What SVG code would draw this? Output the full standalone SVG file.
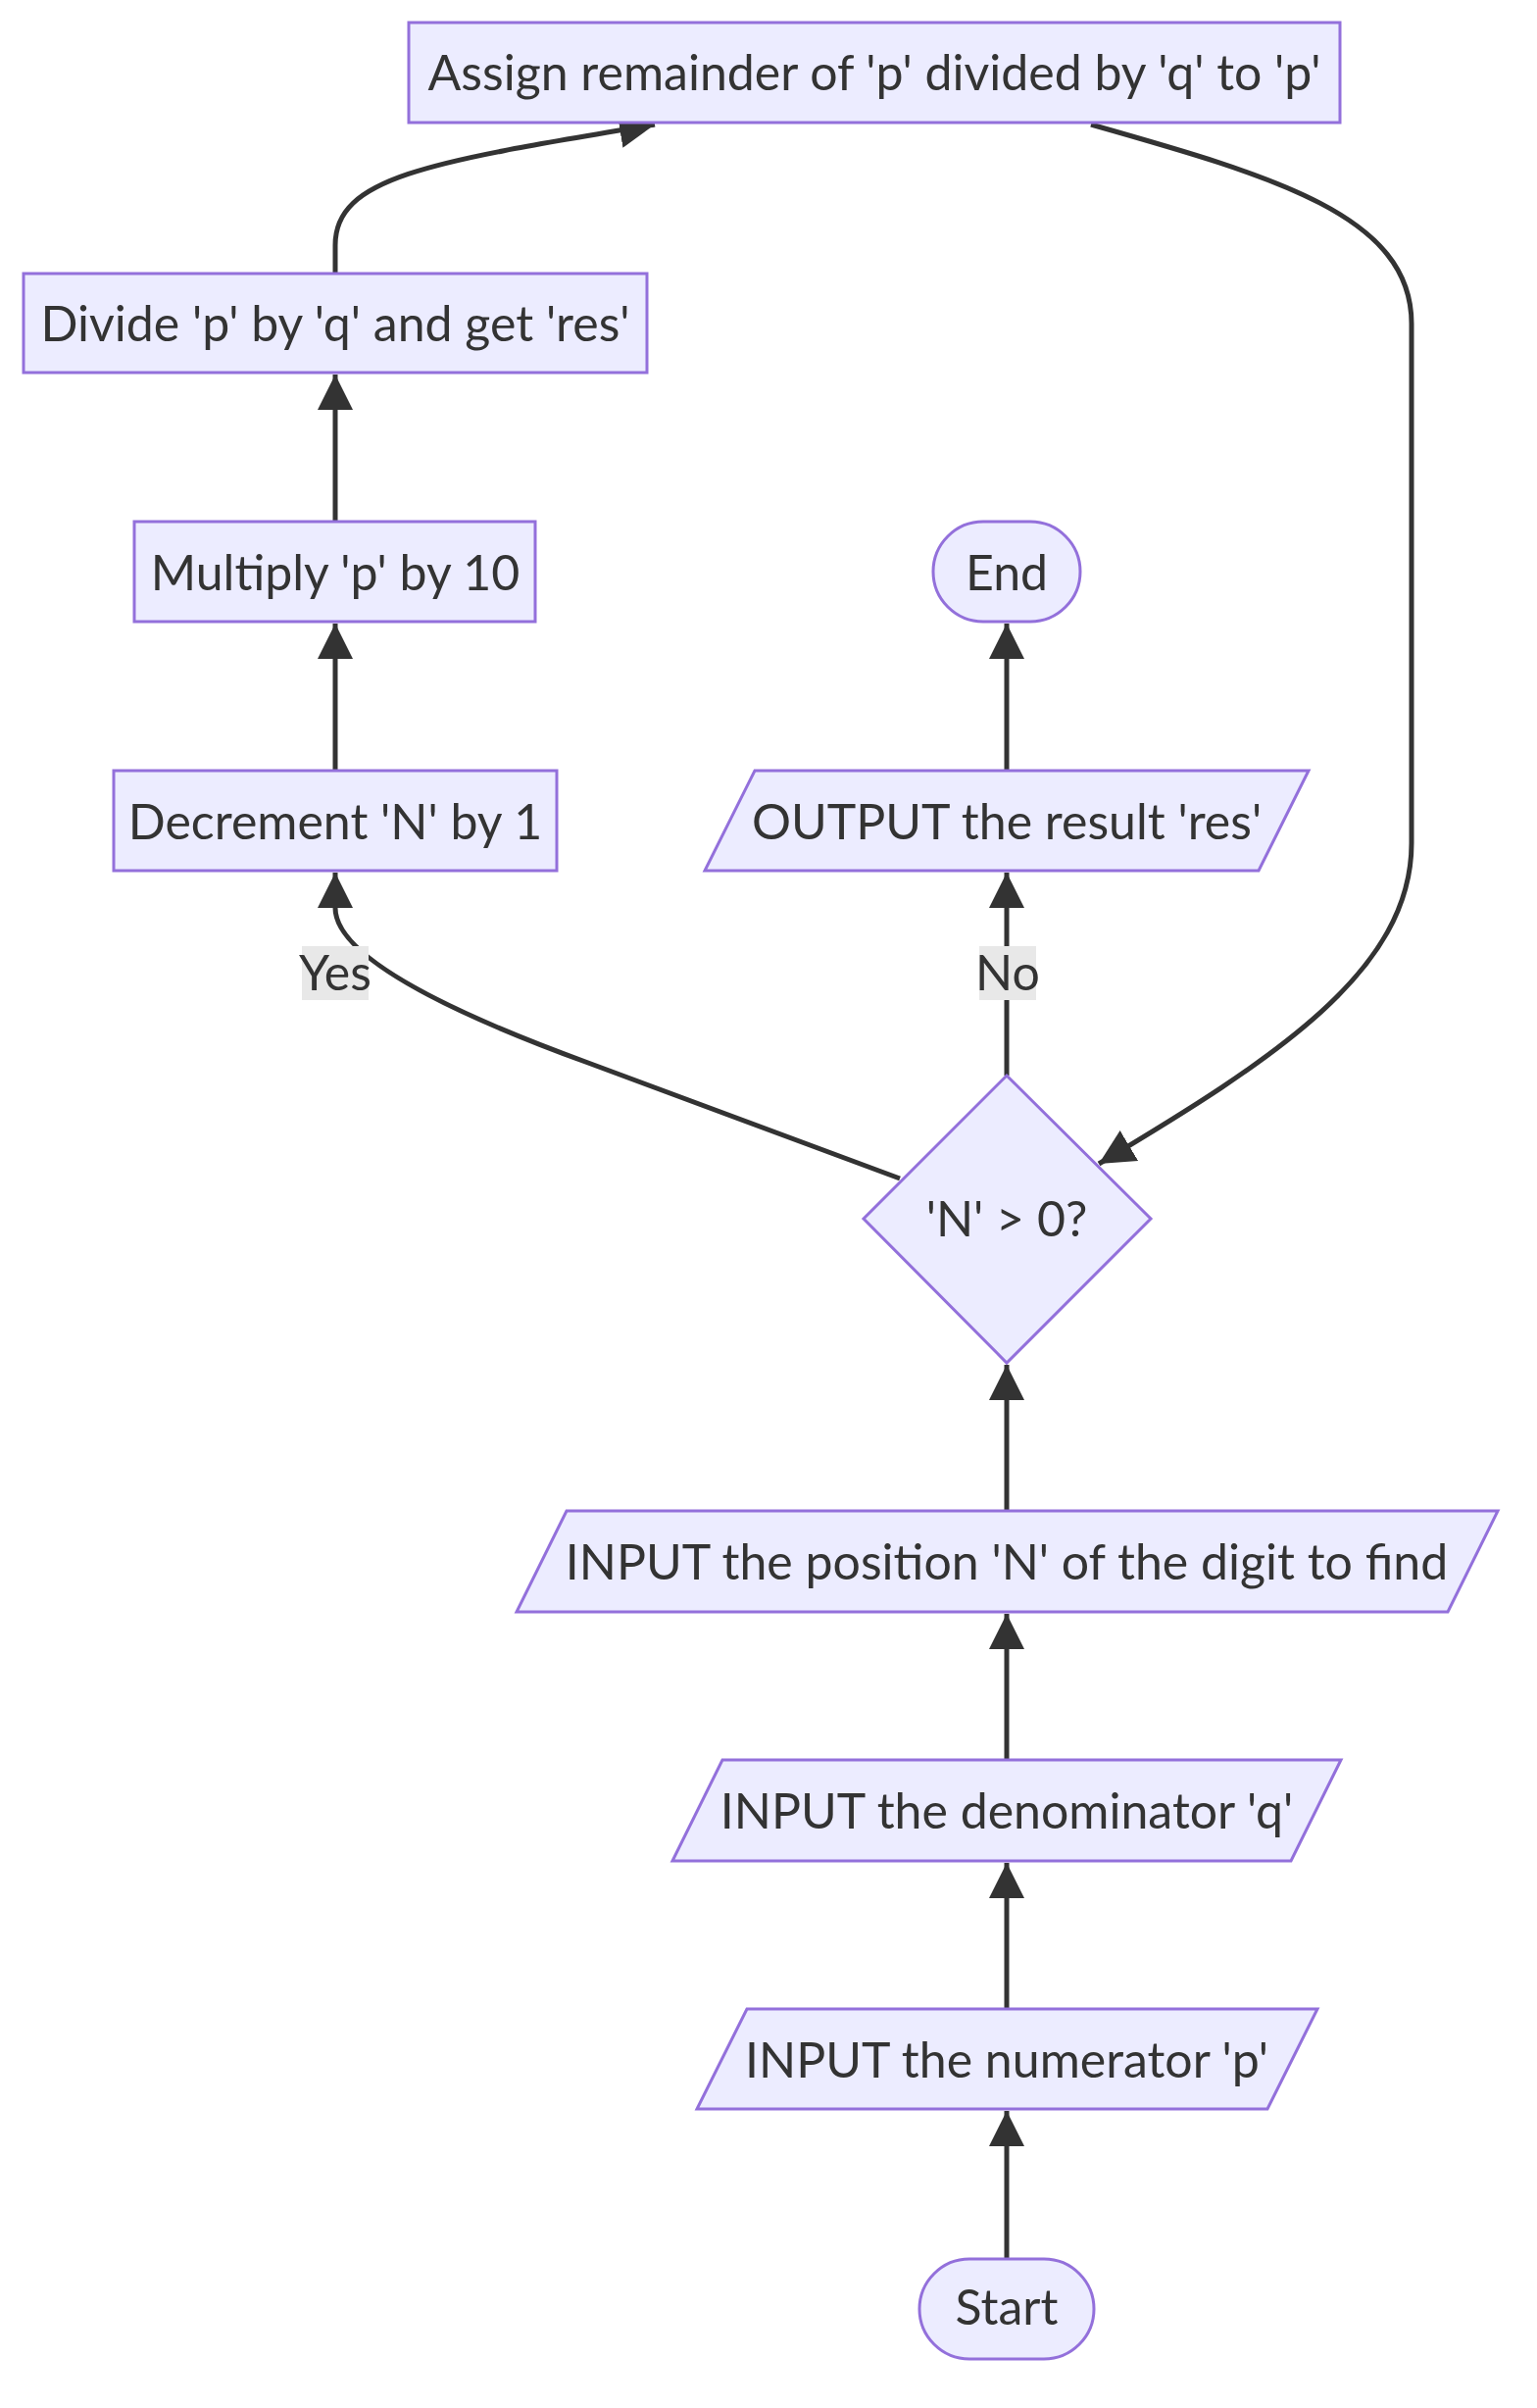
<svg xmlns="http://www.w3.org/2000/svg" width="1568" height="2456" viewBox="0 0 1568 2456">
<style>
.node{fill:#ECECFF;stroke:#9370DB;stroke-width:3;}
.lbl{font-family:Lato,"Liberation Sans",sans-serif;font-size:50px;fill:#333333;text-anchor:middle;}
.edge{fill:none;stroke:#333333;stroke-width:5;}
.ebg{fill:#e8e8e8;}
</style>
<defs>
<marker id="arr" viewBox="0 0 10 10" refX="10" refY="5" markerUnits="userSpaceOnUse" markerWidth="36" markerHeight="36" orient="auto">
<path d="M0,0 L10,5 L0,10 z" fill="#333333"/>
</marker>
</defs>
<rect width="1568" height="2456" fill="#ffffff"/>
<g id="edges">
<path class="edge" d="M1027,2304 L1027,2153" marker-end="url(#arr)"/>
<path class="edge" d="M1027,2049 L1027,1900" marker-end="url(#arr)"/>
<path class="edge" d="M1027,1795 L1027,1646" marker-end="url(#arr)"/>
<path class="edge" d="M1027,1541 L1027,1392" marker-end="url(#arr)"/>
<path class="edge" d="M1027,1097 L1027,890" marker-end="url(#arr)"/>
<path class="edge" d="M1027,786 L1027,636" marker-end="url(#arr)"/>
<path class="edge" d="M918,1202 L600,1084 Q342,990 342,926 L342,890" marker-end="url(#arr)"/>
<path class="edge" d="M342,786 L342,636" marker-end="url(#arr)"/>
<path class="edge" d="M342,532 L342,382" marker-end="url(#arr)"/>
<path class="edge" d="M342,279 L342,250 C342,180 440,165 668,127" marker-end="url(#arr)"/>
<path class="edge" d="M1113,127 C1300,180 1440,220 1440,330 L1440,860 C1440,990 1300,1080 1121,1187" marker-end="url(#arr)"/>
<rect class="ebg" x="308" y="965" width="68" height="55"/>
<text class="lbl" x="342" y="1010">Yes</text>
<rect class="ebg" x="999" y="965" width="58" height="55"/>
<text class="lbl" x="1028" y="1010">No</text>
</g>
<g id="assign">
<rect class="node" x="417" y="23" width="950" height="102"/>
<text class="lbl" x="892" y="92">Assign remainder of 'p' divided by 'q' to 'p'</text>
</g>
<g id="divide">
<rect class="node" x="24" y="279" width="636" height="101"/>
<text class="lbl" x="342" y="348">Divide 'p' by 'q' and get 'res'</text>
</g>
<g id="multiply">
<rect class="node" x="137" y="532" width="409" height="102"/>
<text class="lbl" x="342" y="602">Multiply 'p' by 10</text>
</g>
<g id="end">
<rect class="node" x="952" y="532" width="150" height="102" rx="51" ry="51"/>
<text class="lbl" x="1027" y="602">End</text>
</g>
<g id="decrement">
<rect class="node" x="116" y="786" width="452" height="102"/>
<text class="lbl" x="342" y="856">Decrement 'N' by 1</text>
</g>
<g id="output">
<polygon class="node" points="770,786 1335,786 1284,888 719,888"/>
<text class="lbl" x="1027" y="856">OUTPUT the result 'res'</text>
</g>
<g id="decision">
<polygon class="node" points="1027,1097 1174,1243 1027,1390 881,1243"/>
<text class="lbl" x="1027" y="1261">'N' &gt; 0?</text>
</g>
<g id="input_n">
<polygon class="node" points="578,1541 1528,1541 1477,1644 527,1644"/>
<text class="lbl" x="1027" y="1611">INPUT the position 'N' of the digit to find</text>
</g>
<g id="input_q">
<polygon class="node" points="737,1795 1368,1795 1317,1898 686,1898"/>
<text class="lbl" x="1027" y="1865">INPUT the denominator 'q'</text>
</g>
<g id="input_p">
<polygon class="node" points="762,2049 1344,2049 1293,2151 711,2151"/>
<text class="lbl" x="1027" y="2119">INPUT the numerator 'p'</text>
</g>
<g id="start">
<rect class="node" x="938" y="2304" width="178" height="102" rx="51" ry="51"/>
<text class="lbl" x="1027" y="2371">Start</text>
</g>
</svg>
